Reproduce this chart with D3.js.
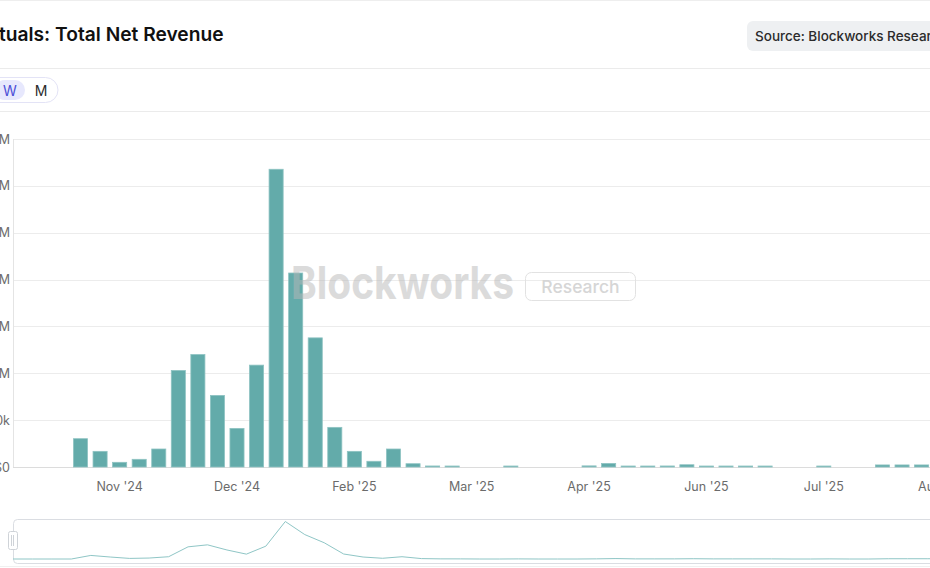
<!DOCTYPE html>
<html>
<head>
<meta charset="utf-8">
<script src="https://cdn.jsdelivr.net/npm/d3@7"></script>
<style>
  html, body { margin: 0; padding: 0; background: #fff; overflow: hidden; }
  svg { display: block; font-family: Inter, "Noto Sans", sans-serif; }
</style>
</head>
<body>
<div id="chart"></div>
<script>
// weekly buckets (week starting Sunday)
var weeks = [
  "2024-09-29","2024-10-06","2024-10-13","2024-10-20","2024-10-27","2024-11-03","2024-11-10","2024-11-17",
  "2024-11-24","2024-12-01","2024-12-08","2024-12-15","2024-12-22","2024-12-29","2025-01-05","2025-01-12",
  "2025-01-19","2025-01-26","2025-02-02","2025-02-09","2025-02-16","2025-02-23","2025-03-02","2025-03-09",
  "2025-03-16","2025-03-23","2025-03-30","2025-04-06","2025-04-13","2025-04-20","2025-04-27","2025-05-04",
  "2025-05-11","2025-05-18","2025-05-25","2025-06-01","2025-06-08","2025-06-15","2025-06-22","2025-06-29",
  "2025-07-06","2025-07-13","2025-07-20","2025-07-27","2025-08-03","2025-08-10","2025-08-17","2025-08-24",
  "2025-08-31","2025-09-07"
];
var revenue = [
  0, 0, 0, 0, 302000, 167000, 50000, 82000,
  192000, 1030000, 1200000, 764000, 412000, 1087000, 3177000, 2070000,
  1378000, 423000, 167000, 61000, 192000, 35000, 11000, 10000,
  0, 0, 9000, 0, 0, 0, 12000, 38000,
  10000, 10000, 11000, 24000, 10000, 10000, 10000, 10000,
  0, 0, 10000, 0, 0, 22000, 22000, 22000,
  22000, 15000
];
var tickWeeks = ["2024-11-10","2024-12-22","2025-02-02","2025-03-16","2025-04-27","2025-06-08","2025-07-20","2025-08-31"];
var yTicks = [0, 500000, 1000000, 1500000, 2000000, 2500000, 3000000, 3500000];
var intervals = ["D", "W", "M"];

var W = 930, H = 568;
var svg = d3.select("#chart").append("svg").attr("width", W).attr("height", H);

var data = weeks.map(function (d, i) { return { week: d, value: revenue[i] }; });

// header
svg.append("line").attr("x1", 0).attr("x2", W).attr("y1", 0.5).attr("y2", 0.5).attr("stroke", "#eeeeee");
svg.append("text")
  .attr("x", -1).attr("y", 41)
  .attr("font-size", 19.2).attr("font-weight", 600).attr("fill", "#111")
  .text("tuals: Total Net Revenue");

var badge = svg.append("g").attr("transform", "translate(747,21)");
badge.append("rect").attr("width", 240).attr("height", 30).attr("rx", 6).attr("fill", "#eef0f2");
badge.append("text").attr("x", 8).attr("y", 19.5)
  .attr("font-size", 13.5).attr("font-weight", 500).attr("fill", "#2b2b2b")
  .text("Source: Blockworks Research");

svg.append("line").attr("x1", 0).attr("x2", W).attr("y1", 68.5).attr("y2", 68.5).attr("stroke", "#ebebeb");
svg.append("line").attr("x1", 0).attr("x2", W).attr("y1", 111.5).attr("y2", 111.5).attr("stroke", "#ebebeb");

// interval toggle (D is cut off at the left edge)
var tg = svg.append("g");
tg.append("rect").attr("x", -40).attr("y", 77.5).attr("width", 98).attr("height", 25).attr("rx", 12.5)
  .attr("fill", "#fff").attr("stroke", "#e3e3f6");
tg.append("rect").attr("x", -5).attr("y", 80).attr("width", 30).attr("height", 20).attr("rx", 10)
  .attr("fill", "#e7e8fd");
var btnX = d3.scaleOrdinal().domain(intervals).range([-21, 10, 41]);
tg.selectAll("text.btn").data(intervals).enter().append("text")
  .attr("class", "btn")
  .attr("x", function (d) { return btnX(d); }).attr("y", 95.5)
  .attr("text-anchor", "middle").attr("font-size", 14)
  .attr("fill", function (d) { return d === "W" ? "#4b4fd6" : "#2b2b2b"; })
  .text(function (d) { return d; });

// main plot
var plotTop = 139, plotBottom = 467, axisX = 13;
var x = d3.scaleBand()
  .domain(weeks)
  .range([-7.5, -7.5 + weeks.length * 19.56])
  .paddingInner(0.28).paddingOuter(0.14);
var y = d3.scaleLinear().domain([0, 3500000]).range([plotBottom, plotTop]);

function fmtMoney(v) {
  if (v === 0) return "$0";
  if (v >= 1e6) return "$" + d3.format("~g")(v / 1e6) + "M";
  return "$" + d3.format("~g")(v / 1e3) + "k";
}

var grid = svg.append("g");
grid.selectAll("line").data(yTicks).enter().append("line")
  .attr("x1", axisX).attr("x2", W)
  .attr("y1", function (d) { return Math.round(y(d)) + 0.5; })
  .attr("y2", function (d) { return Math.round(y(d)) + 0.5; })
  .attr("stroke", function (d) { return d === 0 ? "#dcdcdc" : "#ececec"; });
svg.append("line").attr("x1", axisX + 0.5).attr("x2", axisX + 0.5)
  .attr("y1", plotTop).attr("y2", plotBottom).attr("stroke", "#e4e4e4");

var yAxis = svg.append("g").attr("transform", "translate(10,0)")
  .call(d3.axisLeft(y).tickValues(yTicks).tickFormat(fmtMoney).tickSize(0).tickPadding(0));
yAxis.select(".domain").remove();
yAxis.selectAll("text").attr("font-size", 12.5).attr("fill", "#6b6b6b").attr("font-family", "Inter, sans-serif");

var bars = svg.append("g");
bars.selectAll("rect").data(data.filter(function (d) { return d.value > 0; })).enter().append("rect")
  .attr("x", function (d) { return x(d.week); })
  .attr("width", x.bandwidth())
  .attr("y", function (d) { return Math.min(y(d.value), plotBottom - 1); })
  .attr("height", function (d) { return Math.max(plotBottom - y(d.value), 1); })
  .attr("fill", "#63abaa")
  .attr("stroke", "#8ec3c2").attr("stroke-width", 0.8);

var xAxis = svg.append("g").attr("transform", "translate(0," + plotBottom + ")")
  .call(d3.axisBottom(x).tickValues(tickWeeks).tickSize(0).tickPadding(15)
    .tickFormat(function (d) { return d3.timeFormat("%b '%y")(d3.timeParse("%Y-%m-%d")(d)); }));
xAxis.select(".domain").remove();
xAxis.selectAll("text").attr("font-size", 12.5).attr("fill", "#6b6b6b").attr("font-family", "Inter, sans-serif");

// watermark
var wm = svg.append("g").attr("pointer-events", "none");
wm.append("text").attr("x", 291).attr("y", 299)
  .attr("font-size", 45).attr("font-weight", 700).attr("fill", "#b8b8b8").attr("opacity", 0.5)
  .attr("textLength", 223).attr("lengthAdjust", "spacingAndGlyphs")
  .text("Blockworks");
wm.append("rect").attr("x", 525.5).attr("y", 272.5).attr("width", 110).attr("height", 28).attr("rx", 6)
  .attr("fill", "none").attr("stroke", "#e2e2e2");
wm.append("text").attr("x", 580.5).attr("y", 292.5)
  .attr("text-anchor", "middle").attr("font-size", 17.5).attr("font-weight", 500).attr("fill", "#d6d6d6")
  .text("Research");

// slider (data zoom) with data shadow
var sx = d3.scalePoint().domain(weeks).range([13, 13 + (weeks.length - 1) * 19.45]);
var sy = d3.scaleLinear().domain([0, d3.max(revenue)]).range([559, 521.5]);
svg.append("rect").attr("x", 13.5).attr("y", 519.5).attr("width", 1000).attr("height", 44).attr("rx", 4)
  .attr("fill", "none").attr("stroke", "#dadde2");
svg.append("path").datum(data)
  .attr("d", d3.line().x(function (d) { return sx(d.week); }).y(function (d) { return sy(d.value); }))
  .attr("fill", "none").attr("stroke", "#8fc6c6").attr("stroke-width", 1);
var handle = svg.append("g");
handle.append("rect").attr("x", 8.5).attr("y", 531.5).attr("width", 9).attr("height", 18).attr("rx", 2)
  .attr("fill", "#fff").attr("stroke", "#cfd3d8");
handle.selectAll("line").data([11.5, 13.5]).enter().append("line")
  .attr("x1", function (d) { return d; }).attr("x2", function (d) { return d; })
  .attr("y1", 535).attr("y2", 546).attr("stroke", "#cfd3d8");

svg.append("line").attr("x1", 0).attr("x2", W).attr("y1", 566.5).attr("y2", 566.5).attr("stroke", "#f0f0f0");
</script>
</body>
</html>
